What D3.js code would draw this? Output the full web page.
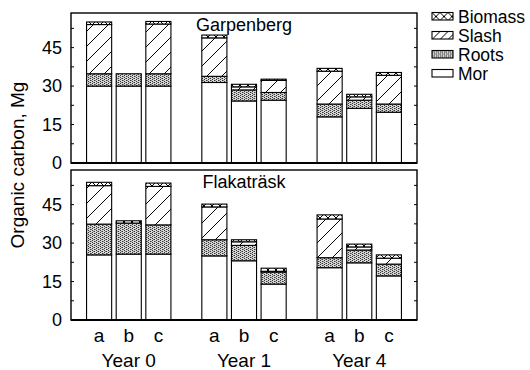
<!DOCTYPE html>
<html>
<head>
<meta charset="utf-8">
<script src="https://cdn.jsdelivr.net/npm/d3@7"></script>
<style>
  html, body { margin: 0; padding: 0; background: #fff; }
  svg { display: block; font-family: "Liberation Sans", Arial, Helvetica, sans-serif; }
</style>
</head>
<body>
<svg id="chart" width="530" height="370"></svg>
<script>
// Stand groups, treatments and carbon pools
const years = ["Year 0", "Year 1", "Year 4"];
const treatments = ["a", "b", "c"];
const sites = ["Garpenberg", "Flakaträsk"];
const components = ["Mor", "Roots", "Slash", "Biomass"];
const legendOrder = ["Biomass", "Slash", "Roots", "Mor"];
const yTicks = [0, 15, 30, 45];

// Organic carbon (Mg) per bar, ordered Year 0 a,b,c / Year 1 a,b,c / Year 4 a,b,c
const garpMor     = [30.0, 30.0, 30.0, 31.4, 24.2, 24.5, 18.0, 21.3, 19.8];
const garpRoots   = [4.8, 4.8, 4.8, 2.4, 4.3, 3.0, 5.0, 3.2, 3.2];
const garpSlash   = [19.2, 0, 19.4, 15.0, 1.2, 4.7, 12.8, 1.3, 11.2];
const garpBiomass = [1.0, 0, 1.0, 1.1, 1.0, 0.5, 1.1, 1.0, 1.1];

const flakMor     = [25.4, 25.7, 25.7, 25.0, 23.1, 14.0, 20.4, 22.3, 17.2];
const flakRoots   = [12.0, 12.1, 11.4, 6.3, 6.0, 4.7, 3.9, 5.0, 4.6];
const flakSlash   = [15.0, 0, 15.0, 12.8, 1.4, 0.3, 15.1, 1.2, 2.3];
const flakBiomass = [1.3, 0.9, 1.3, 1.1, 0.8, 1.2, 1.6, 1.1, 1.3];

function buildRows(mor, roots, slash, biomass) {
  const rows = [];
  years.forEach((yr, gi) => treatments.forEach((tr, ti) => {
    const i = gi * 3 + ti;
    rows.push({ year: yr, trt: tr, Mor: mor[i], Roots: roots[i], Slash: slash[i], Biomass: biomass[i] });
  }));
  return rows;
}
const panels = [
  { site: sites[0], rows: buildRows(garpMor, garpRoots, garpSlash, garpBiomass), top: 13 },
  { site: sites[1], rows: buildRows(flakMor, flakRoots, flakSlash, flakBiomass), top: 170 }
];

const svg = d3.select("#chart");
const left = 71, right = 417, panelH = 150;
const BIG = 19;

// Fill patterns
const defs = svg.append("defs");
function hatch(id, size, both) {
  const p = defs.append("pattern").attr("id", id).attr("patternUnits", "userSpaceOnUse")
    .attr("width", size).attr("height", size);
  p.append("rect").attr("width", size).attr("height", size).attr("fill", "#fff");
  const s = size;
  p.append("path").attr("d", `M${-s/2},${s/2}L${s/2},${-s/2}M0,${s}L${s},0M${s/2},${s*1.5}L${s*1.5},${s/2}`)
    .attr("stroke", "#000").attr("stroke-width", 1).attr("fill", "none");
  if (both) {
    p.append("path").attr("d", `M${-s/2},${s/2}L${s/2},${s*1.5}M0,0L${s},${s}M${s/2},${-s/2}L${s*1.5},${s/2}`)
      .attr("stroke", "#000").attr("stroke-width", 1).attr("fill", "none");
  }
}
hatch("slash", 15, false);
hatch("biomass", 8, true);
hatch("slashKey", 8, false);
hatch("biomassKey", 8, true);

// Fine stipple for roots
const dots = defs.append("pattern").attr("id", "roots").attr("patternUnits", "userSpaceOnUse")
  .attr("width", 4).attr("height", 4);
dots.append("rect").attr("width", 4).attr("height", 4).attr("fill", "#d6d6d6");
[[0, 0], [2, 1], [0, 2], [2, 3], [1, 1], [3, 3]].forEach(([px, py], k) => {
  dots.append("rect").attr("x", px).attr("y", py).attr("width", 1).attr("height", 1)
    .attr("fill", k < 4 ? "#333" : "#888");
});

const fills = { Mor: "#fff", Roots: "url(#roots)", Slash: "url(#slash)", Biomass: "url(#biomass)" };
const keyFills = { Mor: "#fff", Roots: "url(#roots)", Slash: "url(#slashKey)", Biomass: "url(#biomassKey)" };

// Horizontal scales: groups by year, bars by treatment
const x0 = d3.scaleBand().domain(years).range([left, right]).paddingInner(0.268).paddingOuter(0.135);
const x1 = d3.scaleBand().domain(treatments).range([0, x0.bandwidth()]).paddingInner(0.153).paddingOuter(0);
const y = d3.scaleLinear().domain([0, 58.5]).range([panelH, 0]);
const stack = d3.stack().keys(components);

panels.forEach(pn => {
  const g = svg.append("g").attr("transform", `translate(0,${pn.top})`);
  const series = stack(pn.rows);

  series.forEach(s => {
    g.append("g").selectAll("rect").data(s).join("rect")
      .attr("x", d => x0(d.data.year) + x1(d.data.trt))
      .attr("width", x1.bandwidth())
      .attr("y", d => y(d[1]))
      .attr("height", d => Math.max(0, y(d[0]) - y(d[1])))
      .attr("fill", fills[s.key])
      .attr("stroke", d => (d[1] - d[0]) > 0 ? "#000" : "none")
      .attr("stroke-width", 1.1);
  });

  // Frame
  g.append("rect").attr("x", left).attr("y", 0).attr("width", right - left).attr("height", panelH)
    .attr("fill", "none").attr("stroke", "#000").attr("stroke-width", 1.4);
  g.append("line").attr("x1", left).attr("x2", right).attr("y1", y(0)).attr("y2", y(0))
    .attr("stroke", "#000").attr("stroke-width", 2);

  // Left axis labels
  const yAxis = d3.axisLeft(y).tickValues(yTicks).tickSize(0).tickPadding(9);
  const ax = g.append("g").attr("transform", `translate(${left},0)`).call(yAxis);
  ax.select(".domain").remove();
  ax.selectAll("text").attr("font-size", 18).attr("font-family", "Liberation Sans, Arial, sans-serif").attr("fill", "#000");

  // Inward tick marks on both sides
  const minor = d3.range(7.5, 58, 7.5);
  g.append("g").selectAll("line").data(minor).join("line")
    .attr("x1", left).attr("x2", left + 3).attr("y1", d => y(d)).attr("y2", d => y(d))
    .attr("stroke", "#000").attr("stroke-width", 1);
  g.append("g").selectAll("line").data(minor).join("line")
    .attr("x1", right).attr("x2", right - 3).attr("y1", d => y(d)).attr("y2", d => y(d))
    .attr("stroke", "#000").attr("stroke-width", 1);

  // Site name
  g.append("text").attr("x", (left + right) / 2).attr("y", 17.5).attr("text-anchor", "middle")
    .attr("font-size", 18).text(pn.site);
});

// Bottom category labels
const bottom = panels[1].top + panelH;
const xl = svg.append("g");
years.forEach(yr => {
  treatments.forEach(tr => {
    xl.append("text").attr("x", x0(yr) + x1(tr) + x1.bandwidth() / 2).attr("y", bottom + 22)
      .attr("text-anchor", "middle").attr("font-size", BIG).text(tr);
  });
  xl.append("text").attr("x", x0(yr) + x0.bandwidth() / 2).attr("y", bottom + 47)
    .attr("text-anchor", "middle").attr("font-size", BIG).text(yr);
});

// Vertical axis title
svg.append("text").attr("transform", "translate(24,165) rotate(-90)")
  .attr("text-anchor", "middle").attr("font-size", BIG).text("Organic carbon, Mg");

// Legend
const lg = svg.append("g").attr("transform", "translate(432,12.5)");
legendOrder.forEach((k, i) => {
  const row = lg.append("g").attr("transform", `translate(0,${i * 19})`);
  row.append("rect").attr("width", 21).attr("height", 7.5).attr("fill", keyFills[k])
    .attr("stroke", "#000").attr("stroke-width", 1.1);
  row.append("text").attr("x", 26).attr("y", 10).attr("font-size", 17.5).text(k);
});
</script>
</body>
</html>
